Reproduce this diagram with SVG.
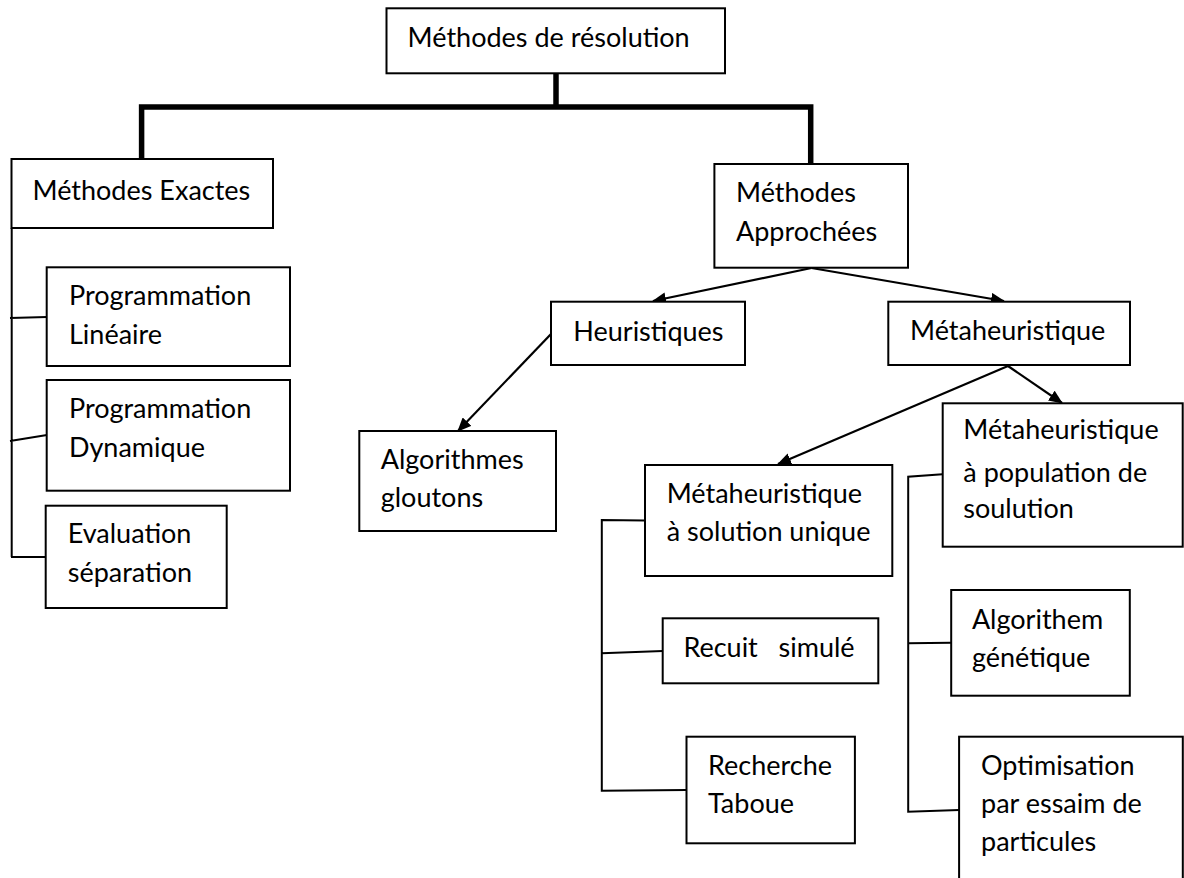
<svg xmlns="http://www.w3.org/2000/svg" width="1184" height="878" viewBox="0 0 1184 878">
<style>
.box{fill:#fff;stroke:#000;stroke-width:2}
.t{font-family:Lato,"Liberation Sans",sans-serif;font-size:27px;fill:#000;white-space:pre}
.thin{fill:none;stroke:#000;stroke-width:2}
.thick{fill:none;stroke:#000;stroke-width:5.5;stroke-linejoin:miter}
.arr{fill:none;stroke:#000;stroke-width:2.2;marker-end:url(#ah)}
</style>
<defs>
<marker id="ah" viewBox="0 0 14 12" refX="13" refY="6" markerWidth="14" markerHeight="12" markerUnits="userSpaceOnUse" orient="auto">
<path d="M0,0 L14,6 L0,12 z" fill="#000"/>
</marker>
</defs>
<rect width="1184" height="878" fill="#fff"/>
<g id="connectors">
<path class="thick" d="M556,73 V107"/>
<path class="thick" d="M141.6,160 V107 H810.7 V165"/>
<path class="thin" d="M11.7,228 V557 M10,318 L47,317 M10,441 L47,435 M11,557 L46,557"/>
<path class="thin" d="M645,520.5 L601.8,520 V790.7 L686.5,790 M601.8,653.3 L662.7,651"/>
<path class="thin" d="M942.5,474.3 L908.2,476.7 V811.7 L959.1,810 M908.2,643.3 L951.2,642.7"/>
<path class="arr" d="M811.5,268 L653,301"/>
<path class="arr" d="M811.5,268 L1004,301"/>
<path class="arr" d="M551,334 L458,431"/>
<path class="arr" d="M1008,366 L1062,403"/>
<path class="arr" d="M1008,366 L778,464"/>
</g>
<g id="root">
<rect class="box" x="386.5" y="8.3" width="338.5" height="65"/>
<text class="t" x="407.6" y="46.7">Méthodes de résolution</text>
</g>
<g id="exactes">
<rect class="box" x="11.5" y="159" width="261.5" height="69"/>
<text class="t" x="32.5" y="200">Méthodes Exactes</text>
</g>
<g id="prog-lineaire">
<rect class="box" x="46.7" y="267.3" width="243.3" height="98.7"/>
<text class="t" x="69" y="305">Programmation<tspan x="69" y="344">Linéaire</tspan></text>
</g>
<g id="prog-dynamique">
<rect class="box" x="46.7" y="380" width="243.3" height="110.7"/>
<text class="t" x="69" y="418">Programmation<tspan x="69" y="457">Dynamique</tspan></text>
</g>
<g id="evaluation">
<rect class="box" x="45.7" y="505.7" width="181" height="102.3"/>
<text class="t" x="67.7" y="543">Evaluation<tspan x="67.7" y="582">séparation</tspan></text>
</g>
<g id="approchees">
<rect class="box" x="714.4" y="164" width="193.6" height="103.7"/>
<text class="t" x="736" y="201.7">Méthodes<tspan x="736" y="240.7">Approchées</tspan></text>
</g>
<g id="heuristiques">
<rect class="box" x="551" y="301.7" width="194" height="63.3"/>
<text class="t" x="573.3" y="340.7">Heuristiques</text>
</g>
<g id="metaheuristique">
<rect class="box" x="888.3" y="301.7" width="241.7" height="63.3"/>
<text class="t" x="910" y="340">Métaheuristique</text>
</g>
<g id="algorithmes-gloutons">
<rect class="box" x="359.3" y="431" width="196.7" height="100"/>
<text class="t" x="380.7" y="469.3">Algorithmes<tspan x="380.7" y="506.7">gloutons</tspan></text>
</g>
<g id="solution-unique">
<rect class="box" x="645" y="465" width="247.3" height="111"/>
<text class="t" x="666.7" y="503.3">Métaheuristique<tspan x="666.7" y="541">à solution unique</tspan></text>
</g>
<g id="population">
<rect class="box" x="942.7" y="403.3" width="240" height="143.4"/>
<text class="t" x="963.3" y="439.3">Métaheuristique<tspan x="963.3" y="481.7">à population de</tspan><tspan x="963.3" y="518.3">soulution</tspan></text>
</g>
<g id="recuit">
<rect class="box" x="662.7" y="618.3" width="215.6" height="65"/>
<text class="t" x="683.4" y="656.7">Recuit   simulé</text>
</g>
<g id="tabou">
<rect class="box" x="686.5" y="736.7" width="168.4" height="106.6"/>
<text class="t" x="708" y="775">Recherche<tspan x="708" y="813.3">Taboue</tspan></text>
</g>
<g id="genetique">
<rect class="box" x="951.2" y="590" width="178.6" height="105.7"/>
<text class="t" x="971.9" y="629.3">Algorithem<tspan x="971.9" y="666.7">génétique</tspan></text>
</g>
<g id="pso">
<rect class="box" x="959.1" y="736.7" width="223.7" height="150"/>
<text class="t" x="981" y="775">Optimisation<tspan x="981" y="813.3">par essaim de</tspan><tspan x="981" y="850.7">particules</tspan></text>
</g>
</svg>
